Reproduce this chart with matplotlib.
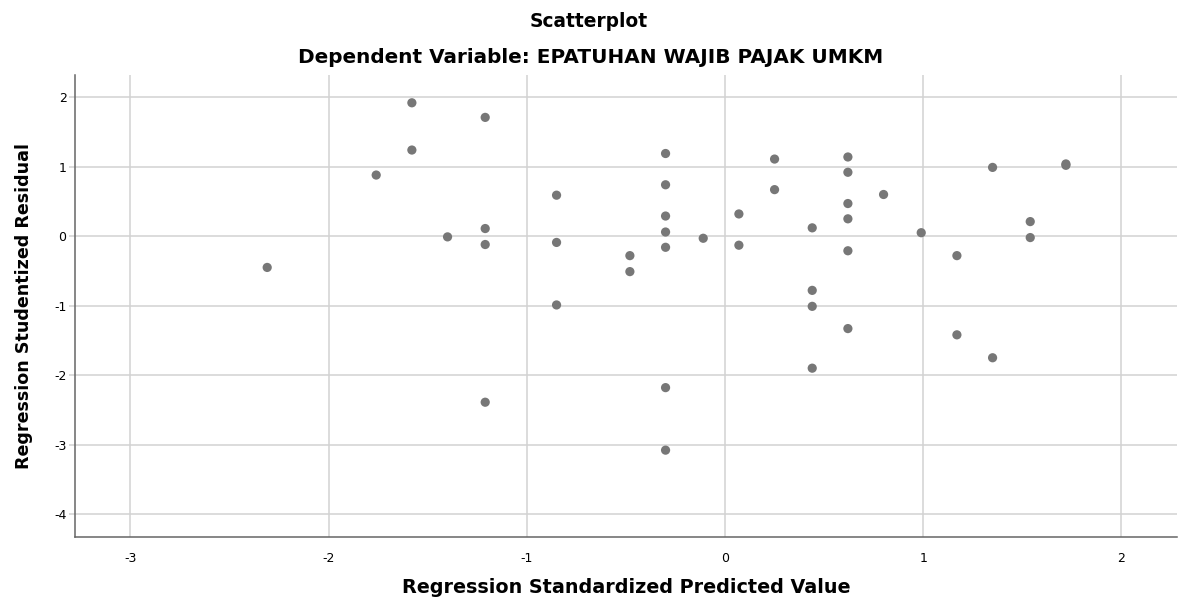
import numpy as np
import matplotlib
matplotlib.use("Agg")
import matplotlib.pyplot as plt

plt.rcParams['font.family'] = ['DejaVu Sans']
plt.rcParams['axes.unicode_minus'] = False

# standardized predicted values (x) and studentized residuals (y)
pred = [-2.31, -1.76, -1.58, -1.58, -1.40, -1.21, -1.21, -1.21, -1.21,
        -0.85, -0.85, -0.85, -0.48, -0.48,
        -0.30, -0.30, -0.30, -0.30, -0.30, -0.30, -0.30,
        -0.11, 0.07, 0.07, 0.25, 0.25,
        0.44, 0.44, 0.44, 0.44,
        0.62, 0.62, 0.62, 0.62, 0.62, 0.62,
        0.80, 0.99, 1.17, 1.17, 1.35, 1.35, 1.54, 1.54, 1.72, 1.72]
resid = [-0.45, 0.88, 1.92, 1.24, -0.01, 1.71, 0.11, -0.12, -2.39,
         0.59, -0.09, -0.99, -0.28, -0.51,
         1.19, 0.74, 0.29, 0.06, -0.16, -2.18, -3.08,
         -0.03, 0.32, -0.13, 1.11, 0.67,
         0.12, -0.78, -1.01, -1.90,
         1.14, 0.92, 0.47, 0.25, -0.21, -1.33,
         0.60, 0.05, -0.28, -1.42, 0.99, -1.75, 0.21, -0.02, 1.02, 1.04]

x_ticks = [-3, -2, -1, 0, 1, 2]
y_ticks = [-4, -3, -2, -1, 0, 1, 2]

fig = plt.figure(figsize=(11.84, 6.01), dpi=100)
ax = fig.add_axes([0.0633, 0.1065, 0.9307, 0.7687])

ax.scatter(pred, resid, s=44, color='#777777', edgecolors='none', zorder=3)

ax.set_xlim(-3.28, 2.28)
ax.set_ylim(-4.33, 2.32)
ax.set_xticks(x_ticks)
ax.set_yticks(y_ticks)
ax.grid(True, color='#d2d2d2', linewidth=1.1, zorder=0)
ax.set_axisbelow(True)

for s in ['top', 'right']:
    ax.spines[s].set_visible(False)
for s in ['left', 'bottom']:
    ax.spines[s].set_color('#666666')
    ax.spines[s].set_linewidth(1.1)

ax.tick_params(axis='y', length=4.5, width=1.1, color='#d2d2d2', pad=1.5, labelsize=9)
ax.tick_params(axis='x', length=0, pad=11, labelsize=9)

fig.text(0.497, 0.965, 'Scatterplot', ha='center', va='center',
         fontsize=13.4, fontweight='bold')
fig.text(0.4987, 0.905, 'Dependent Variable: EPATUHAN WAJIB PAJAK UMKM',
         ha='center', va='center', fontsize=14.4, fontweight='bold')
fig.text(0.529, 0.022, 'Regression Standardized Predicted Value',
         ha='center', va='center', fontsize=13.8, fontweight='bold')
fig.text(0.020, 0.491, 'Regression Studentized Residual', ha='center',
         va='center', rotation=90, fontsize=12.6, fontweight='bold')

fig.savefig('out.png', dpi=100)
